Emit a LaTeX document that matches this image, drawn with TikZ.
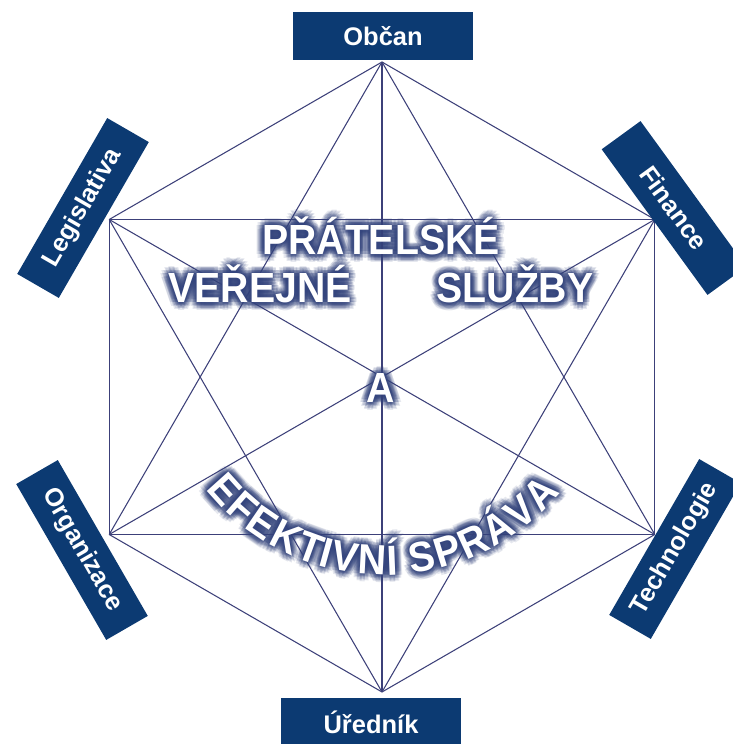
\documentclass[tikz,border=0pt]{standalone}
\usepackage{fontspec}
\setmainfont{Liberation Sans}
\newfontfamily\slogfam[FakeStretch=0.93]{Liberation Sans}
\usetikzlibrary{calc}
\definecolor{boxnavy}{HTML}{0C3A72}
\definecolor{spokeblue}{HTML}{3C4079}
\definecolor{haloblue}{HTML}{34457E}
\newcommand\slogfont{\slogfam\fontsize{24}{26}\selectfont\bfseries}
\tikzset{
  pillar/.style={rectangle,fill=boxnavy,text=white,minimum width=3.6cm,minimum height=0.96cm,
    font=\fontsize{14.5}{16}\selectfont\bfseries,inner sep=0pt},
  spoke/.style={draw=spokeblue,line width=0.6pt},
  slogan/.style={font=\slogfont,text=white,anchor=base,inner sep=0pt},
  halo/.style={slogan,text=haloblue},
}
% letters of the bent line and their angles round (arcc)
\newcommand\arcletters{E/-138.0,F/-131.2,E/-124.4,K/-117.1,T/-110.0,I/-105.4,V/-100.4,
  N/-93.0,Í/-87.8,S/-79.8,P/-72.8,R/-65.5,Á/-57.9,V/-50.5,A/-43.2}

\begin{document}
\begin{tikzpicture}[x=0.02cm,y=0.02cm]
  \useasboundingbox[fill=white] (0,0) rectangle (733,744);
  % corners of the hexagon
  \coordinate (obcan) at (382,682);
  \coordinate (finance) at (654.8,524.5);
  \coordinate (techno) at (654.8,209.5);
  \coordinate (urednik) at (382,52);
  \coordinate (organ) at (109.2,209.5);
  \coordinate (legis) at (109.2,524.5);
  \coordinate (arcc) at (384,398);
  % every corner to every corner
  \foreach \a/\b in {obcan/finance,obcan/techno,obcan/urednik,obcan/organ,obcan/legis,
    finance/techno,finance/urednik,finance/organ,finance/legis,
    techno/urednik,techno/organ,techno/legis,
    urednik/organ,urednik/legis,organ/legis}
    \draw[spoke] (\a) -- (\b);
  % labels
  \node[pillar] (obcanbox) at (383,708) {Občan};
  \node[pillar,rotate=-54] (financebox) at (674,536) {Finance};
  \node[pillar,rotate=60] (technobox) at (675,195) {Technologie};
  \node[pillar] (urednikbox) at (371,22) {Úředník};
  \node[pillar,rotate=-60] (organbox) at (82,194) {Organizace};
  \node[pillar,rotate=60] (legisbox) at (83,536) {Legislativa};
  % glow behind the slogan
  \begin{scope}[opacity=0.12]
    \foreach \ang in {0,30,...,330}{
      \foreach \rad in {1.5,3,4.5,6,7.5}{
        \node[halo] at ($(381,489)+(\ang:\rad)$) {PŘÁTELSKÉ};
        \node[halo] at ($(260,441)+(\ang:\rad)$) {VEŘEJNÉ};
        \node[halo] at ($(515,441)+(\ang:\rad)$) {SLUŽBY};
        \node[halo] at ($(381,341)+(\ang:\rad)$) {A};
        \foreach \ch/\pos in \arcletters
          \node[halo,rotate=\pos+90] at ($(arcc)+(\pos:229)+(\ang:\rad)$) {\ch};
      }
    }
  \end{scope}
  % slogan
  \node[slogan] (pratelske) at (381,489) {PŘÁTELSKÉ};
  \node[slogan] (verejne) at (260,441) {VEŘEJNÉ};
  \node[slogan] (sluzby) at (515,441) {SLUŽBY};
  \node[slogan] (anode) at (381,341) {A};
  \foreach \ch/\pos [count=\i] in \arcletters
    \node[slogan,rotate=\pos+90] (arcl\i) at ($(arcc)+(\pos:229)$) {\ch};
\end{tikzpicture}
\end{document}
